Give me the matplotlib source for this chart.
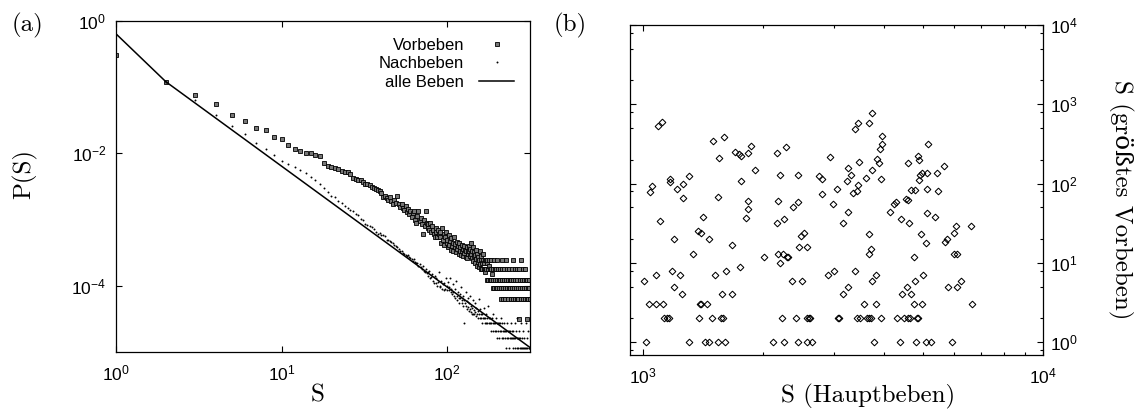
import matplotlib
matplotlib.use('Agg')
import matplotlib.pyplot as plt
from matplotlib.ticker import FixedLocator, LogLocator, NullLocator, FuncFormatter, NullFormatter

plt.rcParams['font.family'] = ['Liberation Sans', 'DejaVu Sans']
plt.rcParams['mathtext.fontset'] = 'custom'
plt.rcParams['mathtext.rm'] = 'Liberation Sans'
plt.rcParams['mathtext.default'] = 'regular'

SERIF = ['cmr10', 'DejaVu Serif']  # Computer-Modern-Optik fuer die Achsentitel

# (a) Verteilung P(S): Vorbeben (S, P)
vorbeben = [
    (1, 0.31), (2, 0.121), (3, 0.075), (4, 0.0565), (5, 0.0377), (6, 0.0313), (7, 0.024),
    (8, 0.0222), (9, 0.0176), (10, 0.0166), (11, 0.0136), (12, 0.0115), (13, 0.0108),
    (14, 0.0103), (15, 0.0100), (16, 0.0094), (17, 0.0091), (18, 0.0072), (19, 0.0065),
    (20, 0.0062), (21, 0.0060), (22, 0.0058), (23, 0.0055), (24, 0.0053), (25, 0.0052),
    (26, 0.0049), (27, 0.0042), (28, 0.0041), (29, 0.0040), (30, 0.0039), (31, 0.0037),
    (32, 0.0035), (33, 0.0034), (34, 0.0033), (35, 0.0031), (36, 0.0030), (37, 0.0029),
    (38, 0.0028), (39, 2.7e-3), (40, 2.5e-3), (41, 2.2e-3), (42, 2.3e-3), (43, 2.1e-3),
    (44, 2.0e-3), (45, 2.2e-3), (46, 1.9e-3), (47, 1.7e-3), (48, 2.0e-3), (49, 1.8e-3),
    (50, 2.3e-3), (51, 1.7e-3), (52, 1.55e-3), (53, 1.75e-3), (54, 1.5e-3), (55, 1.4e-3),
    (56, 1.6e-3), (57, 1.3e-3), (58, 1.45e-3), (59, 1.2e-3), (60, 1.35e-3), (61, 1.1e-3),
    (62, 1.25e-3), (63, 1.35e-3), (64, 1.0e-3), (65, 9.0e-4), (66, 1.15e-3), (67, 1.35e-3),
    (68, 9.5e-4), (69, 1.05e-3), (70, 8.5e-4), (71, 6.0e-4), (72, 1.0e-3), (73, 8.0e-4),
    (74, 1.35e-3), (75, 9.0e-4), (76, 7.5e-4), (77, 8.5e-4), (78, 7.0e-4), (79, 9.0e-4),
    (80, 6.5e-4), (81, 8.0e-4), (82, 7.0e-4), (83, 6.0e-4), (84, 5.4e-4), (85, 7.5e-4),
    (86, 6.5e-4), (87, 5.5e-4), (88, 7.0e-4), (89, 6.0e-4), (90, 5.5e-4), (91, 6.5e-4),
    (92, 4.5e-4), (93, 7.5e-4), (94, 5.0e-4), (95, 6.0e-4), (96, 4.2e-4), (97, 5.5e-4),
    (98, 6.5e-4), (99, 4.5e-4), (100, 5.0e-4), (101, 3.8e-4), (102, 5.8e-4), (103, 4.2e-4),
    (104, 4.8e-4), (105, 3.5e-4), (106, 5.2e-4), (107, 4.0e-4), (108, 4.5e-4), (109, 3.3e-4),
    (110, 5.5e-4), (111, 3.8e-4), (112, 4.3e-4), (113, 3.2e-4), (114, 4.6e-4), (115, 3.6e-4),
    (116, 4.0e-4), (117, 3.0e-4), (118, 4.4e-4), (119, 3.4e-4), (120, 3.8e-4), (121, 2.9e-4),
    (122, 4.1e-4), (123, 3.3e-4), (124, 3.6e-4), (125, 2.8e-4), (126, 4.0e-4), (127, 3.1e-4),
    (128, 3.5e-4), (129, 2.7e-4), (130, 3.3e-4), (131, 3.8e-4), (132, 2.6e-4), (133, 3.0e-4),
    (134, 3.4e-4), (135, 3.3e-4), (136, 4.0e-4), (137, 2.8e-4), (138, 3.6e-4), (139, 4.5e-4),
    (140, 3.0e-4), (141, 2.6e-4), (142, 3.4e-4), (143, 2.4e-4), (144, 3.8e-4), (145, 2.8e-4),
    (146, 3.2e-4), (147, 2.2e-4), (148, 2.9e-4), (149, 3.5e-4), (150, 2.5e-4), (151, 2.0e-4),
    (152, 3.0e-4), (153, 2.3e-4), (154, 2.7e-4), (155, 1.9e-4), (156, 2.46e-4), (157, 3.3e-4),
    (158, 2.1e-4), (159, 2.46e-4), (160, 1.81e-4), (161, 2.8e-4), (162, 2.2e-4), (163, 1.81e-4),
    (164, 2.46e-4), (165, 3.0e-4), (166, 1.81e-4), (167, 2.2e-4), (168, 2.46e-4), (169, 1.81e-4),
    (170, 1.6e-4), (171, 2.46e-4), (172, 1.81e-4), (173, 2.2e-4), (174, 1.24e-4), (175, 2.46e-4),
    (176, 1.81e-4), (177, 1.24e-4), (178, 2.0e-4), (179, 2.46e-4), (180, 1.81e-4), (181, 1.24e-4),
    (183, 2.46e-4), (184, 1.81e-4), (185, 1.24e-4), (186, 1.5e-4), (188, 9.3e-5), (189, 1.81e-4),
    (190, 1.24e-4), (191, 2.46e-4), (192, 9.3e-5), (193, 1.81e-4), (195, 1.24e-4), (196, 9.3e-5),
    (197, 1.81e-4), (199, 1.24e-4), (200, 2.46e-4), (201, 9.3e-5), (203, 1.81e-4), (204, 1.24e-4),
    (206, 9.3e-5), (207, 1.81e-4), (209, 1.24e-4), (210, 9.3e-5), (211, 6.3e-5), (213, 1.81e-4),
    (214, 2.46e-4), (215, 1.24e-4), (217, 9.3e-5), (218, 6.3e-5), (220, 1.24e-4), (221, 1.81e-4),
    (223, 9.3e-5), (224, 6.3e-5), (226, 1.24e-4), (227, 2.46e-4), (229, 9.3e-5), (230, 1.81e-4),
    (232, 1.24e-4), (233, 6.3e-5), (235, 9.3e-5), (237, 1.81e-4), (238, 1.24e-4), (240, 9.3e-5),
    (241, 6.3e-5), (243, 1.24e-4), (245, 1.81e-4), (246, 9.3e-5), (248, 6.3e-5), (250, 1.24e-4),
    (251, 2.46e-4), (253, 9.3e-5), (255, 1.81e-4), (256, 6.3e-5), (258, 1.24e-4), (260, 9.3e-5),
    (262, 1.81e-4), (263, 6.3e-5), (265, 1.24e-4), (267, 9.3e-5), (269, 6.3e-5), (271, 3.2e-5),
    (272, 1.81e-4), (274, 1.24e-4), (276, 9.3e-5), (278, 6.3e-5), (280, 2.46e-4), (281, 1.24e-4),
    (283, 9.3e-5), (285, 1.81e-4), (287, 6.3e-5), (289, 1.24e-4), (291, 9.3e-5), (293, 6.3e-5),
    (295, 1.81e-4), (297, 1.24e-4), (299, 9.3e-5), (301, 6.3e-5), (303, 1.24e-4), (305, 3.2e-5),
    (306, 9.3e-5), (308, 6.3e-5), (310, 1.24e-4), (312, 9.3e-5), (314, 6.3e-5),
]

# (a) Nachbeben (S, P)
nachbeben = [
    (1, 0.62), (2, 0.121), (3, 0.063), (4, 0.0386), (5, 0.0258), (6, 0.0193), (7, 0.0145),
    (8, 0.0115), (9, 0.0093), (10, 0.0077), (11, 0.0068), (12, 0.0062), (13, 0.0057),
    (14, 0.0050), (15, 0.0044), (16, 0.0039), (17, 0.0034), (18, 0.0030), (19, 0.0026),
    (20, 0.0023), (21, 0.0022), (22, 0.0019), (23, 0.0018), (24, 0.0016), (25, 0.0015),
    (26, 0.0014), (27, 0.00133), (28, 0.0012), (29, 0.00118), (30, 0.00102), (31, 0.00098),
    (32, 0.00086), (33, 0.00082), (34, 0.00080), (35, 0.00076), (36, 0.00072), (37, 0.00066),
    (38, 0.00060), (39, 0.00062), (40, 0.00058), (41, 0.00059), (42, 0.00056), (43, 0.00050),
    (44, 0.00049), (45, 0.00047), (46, 0.00046), (47, 0.00044), (48, 0.00041), (49, 0.00040),
    (50, 0.00038), (51, 0.00036), (52, 0.00034), (53, 0.00033), (54, 0.00031), (55, 0.00030),
    (56, 0.00029), (57, 0.00028), (58, 0.00029), (59, 0.00027), (60, 0.00026), (61, 0.00025),
    (62, 0.00024), (63, 0.00025), (64, 0.00023), (65, 0.00022), (66, 0.00022), (67, 0.00020),
    (68, 0.00021), (69, 0.00019), (70, 0.00018), (71, 0.00020), (72, 0.00017), (73, 0.00016),
    (74, 0.00018), (75, 0.000155), (76, 0.00016), (77, 0.00014), (78, 0.00017), (79, 0.00013),
    (80, 0.000135), (81, 0.00015), (82, 0.00012), (83, 0.00011), (84, 0.00014), (85, 0.00011),
    (86, 0.00013), (87, 0.00010), (88, 0.000115), (89, 0.00016), (90, 0.00010), (91, 9.5e-5),
    (92, 0.00012), (93, 9.0e-5), (94, 1.05e-4), (95, 8.5e-5), (96, 1.1e-4), (97, 9.0e-5),
    (98, 1.3e-4), (99, 8.5e-5), (100, 1.0e-4), (101, 1.15e-4), (102, 8.5e-5), (103, 9.5e-5),
    (104, 1.3e-4), (105, 8.0e-5), (106, 9.0e-5), (107, 7.5e-5), (108, 1.05e-4), (109, 8.0e-5),
    (110, 7.0e-5), (111, 9.0e-5), (112, 6.5e-5), (113, 1.2e-4), (114, 7.0e-5), (115, 6.0e-5),
    (116, 8.0e-5), (117, 6.5e-5), (118, 5.5e-5), (119, 7.5e-5), (120, 6.5e-5), (121, 9.5e-5),
    (122, 6.0e-5), (123, 5.5e-5), (124, 7.0e-5), (125, 5.0e-5), (126, 6.0e-5), (127, 2.7e-5),
    (128, 5.5e-5), (129, 8.0e-5), (130, 5.0e-5), (131, 5.8e-5), (132, 4.5e-5), (133, 6.5e-5),
    (134, 4.8e-5), (135, 4.2e-5), (136, 5.5e-5), (137, 4.5e-5), (138, 7.0e-5), (139, 4.0e-5),
    (140, 5.0e-5), (141, 3.8e-5), (142, 4.6e-5), (143, 6.0e-5), (144, 3.8e-5), (145, 4.3e-5),
    (146, 3.8e-5), (147, 5.5e-5), (148, 4.0e-5), (149, 3.5e-5), (150, 4.6e-5), (152, 3.8e-5),
    (153, 4.2e-5), (154, 3.3e-5), (155, 6.3e-5), (156, 3.8e-5), (157, 3.3e-5), (158, 4.5e-5),
    (160, 3.8e-5), (161, 3.3e-5), (162, 2.7e-5), (163, 3.8e-5), (165, 3.3e-5), (166, 4.6e-5),
    (167, 3.3e-5), (168, 2.7e-5), (170, 3.3e-5), (171, 3.8e-5), (172, 2.7e-5), (174, 3.3e-5),
    (175, 2.7e-5), (176, 5.0e-5), (178, 2.7e-5), (179, 3.3e-5), (180, 2.7e-5), (182, 3.3e-5),
    (183, 2.1e-5), (185, 2.7e-5), (186, 3.3e-5), (188, 2.7e-5), (189, 2.1e-5), (190, 3.8e-5),
    (192, 2.7e-5), (193, 2.1e-5), (195, 2.7e-5), (196, 3.3e-5), (198, 2.1e-5), (199, 2.7e-5),
    (200, 1.6e-5), (202, 2.7e-5), (203, 2.1e-5), (205, 2.7e-5), (206, 1.6e-5), (208, 2.1e-5),
    (209, 2.7e-5), (211, 3.3e-5), (212, 2.1e-5), (214, 1.6e-5), (215, 2.7e-5), (217, 2.1e-5),
    (218, 1.6e-5), (220, 2.1e-5), (221, 2.7e-5), (223, 1.6e-5), (224, 2.1e-5), (226, 1.13e-5),
    (227, 2.1e-5), (229, 1.6e-5), (230, 2.7e-5), (232, 2.1e-5), (233, 1.6e-5), (235, 2.1e-5),
    (236, 1.13e-5), (238, 1.6e-5), (240, 2.1e-5), (241, 2.7e-5), (243, 1.6e-5), (245, 2.1e-5),
    (246, 1.6e-5), (248, 1.13e-5), (250, 1.6e-5), (251, 2.1e-5), (253, 1.6e-5), (255, 2.7e-5),
    (256, 1.13e-5), (258, 1.6e-5), (260, 2.1e-5), (262, 1.6e-5), (263, 1.13e-5), (265, 3.3e-5),
    (266, 1.6e-5), (268, 1.13e-5), (270, 2.1e-5), (272, 1.6e-5), (274, 1.13e-5), (276, 1.6e-5),
    (278, 2.7e-5), (280, 1.13e-5), (282, 1.6e-5), (284, 1.13e-5), (286, 2.1e-5), (288, 1.13e-5),
    (290, 1.6e-5), (292, 1.13e-5), (295, 1.13e-5), (297, 2.7e-5), (299, 1.13e-5), (302, 1.6e-5),
    (305, 1.13e-5), (308, 2.1e-5), (310, 1.13e-5), (313, 1.13e-5),
]

# (a) alle Beben, Linie
alle_S = [1, 2, 316]
alle_P = [0.64, 0.121, 1.17e-5]

# (b) Hauptbeben S vs. groesstes Vorbeben S
haupt_vs_vor = [
    (1015, 1), (1306, 1), (1426, 1), (1462, 1), (1537, 1), (1606, 1), (2117, 1), (2255, 1),
    (2445, 1), (2575, 1), (2650, 1), (3787, 1), (4391, 1), (4815, 1), (5100, 1), (5248, 1),
    (5913, 1),
    (1128, 2), (1150, 2), (1159, 2), (1383, 2), (1488, 2), (1567, 2), (1582, 2), (2222, 2),
    (2413, 2), (2566, 2), (2596, 2), (2616, 2), (3076, 2), (3090, 2), (3420, 2), (3487, 2),
    (3637, 2), (3680, 2), (3707, 2), (3936, 2), (4323, 2), (4493, 2), (4605, 2), (4651, 2),
    (4850, 2), (4877, 2),
    (1037, 3), (1078, 3), (1124, 3), (1388, 3), (1399, 3), (1443, 3), (3574, 3), (3824, 3),
    (4766, 3), (4991, 3), (6632, 3),
    (1250, 4), (1576, 4), (1673, 4), (3155, 4), (4433, 4), (4677, 4),
    (1195, 5), (3262, 5), (4560, 5), (5796, 5), (6105, 5),
    (1007, 6), (2353, 6), (2502, 6), (3730, 6), (4786, 6), (6237, 6),
    (1076, 7), (1235, 7), (1516, 7), (2905, 7), (3824, 7), (5000, 7),
    (1182, 8), (1610, 8), (3003, 8), (3388, 8),
    (1751, 9), (2200, 10),
    (2007, 12), (2286, 12), (2308, 12), (4766, 12),
    (1334, 13), (2178, 13), (2235, 13), (3673, 13), (5999, 13), (6084, 13),
    (3715, 15), (2460, 16), (2566, 16), (1673, 17), (5100, 18), (5689, 18.6), (5741, 20),
    (1198, 20), (1459, 20), (2488, 22), (2526, 24), (1399, 24), (1370, 25.5), (3680, 23),
    (4955, 23), (5999, 24), (6067, 29), (6592, 29),
    (2166, 32), (3155, 32), (4631, 32), (1103, 34), (2252, 36), (4416, 36), (1809, 37),
    (1410, 38), (5370, 38), (5117, 42), (3262, 44), (4145, 44), (1827, 48), (2375, 50),
    (2980, 55), (4242, 55), (2438, 58), (4291, 59), (2172, 60), (1834, 60), (4605, 62),
    (4545, 64), (1261, 65), (1537, 67), (2797, 73), (3357, 77), (1041, 79), (5454, 80),
    (3420, 81), (4786, 83), (4667, 83), (1219, 86), (3048, 86), (5117, 86), (1055, 93),
    (3451, 96), (1261, 99),
    (1170, 106), (1758, 107), (3243, 108), (4898, 111), (1168, 115), (2803, 115), (3927, 115),
    (3604, 119), (1301, 125), (2748, 125), (3304, 127), (4927, 127), (2200, 130), (2438, 130),
    (4989, 135), (5117, 135), (5420, 135), (1908, 147), (3730, 149), (3262, 156), (5663, 169),
    (3896, 181), (4605, 181), (3474, 190), (4887, 200), (3840, 205), (1552, 211), (2934, 218),
    (1762, 224), (4859, 225), (1741, 236), (1834, 240), (2163, 240), (1698, 249), (3914, 272),
    (2279, 290), (1862, 302), (5166, 314), (3950, 316), (1500, 348), (1596, 392), (3950, 398),
    (3388, 495), (1089, 534), (3451, 577), (3680, 588), (1117, 604), (3743, 773),
]


def pow10(v, pos):
    return '10$^{%d}$' % round(__import__('math').log10(v))


W, H = 1138, 418
fig = plt.figure(figsize=(W / 100, H / 100), dpi=100)

# ---- (a) ----
ax1 = fig.add_axes([116 / W, 1 - 352 / H, 414 / W, 331 / H])
vs, vp = zip(*vorbeben)
ns, npp = zip(*nachbeben)
h_vor, = ax1.plot(vs, vp, ls='none', marker='s', ms=2.8, mfc='#777777', mec='black', mew=0.6)
h_nach, = ax1.plot(ns, npp, ls='none', marker='o', ms=1.4, mfc='black', mec='black', mew=0)
h_alle, = ax1.plot(alle_S, alle_P, color='black', lw=1.1)
ax1.set_xscale('log')
ax1.set_yscale('log')
ax1.set_xlim(1, 316)
ax1.set_ylim(1e-5, 1)
ax1.xaxis.set_major_locator(FixedLocator([1, 10, 100]))
ax1.yaxis.set_major_locator(FixedLocator([1, 1e-2, 1e-4]))
ax1.xaxis.set_minor_locator(NullLocator())
ax1.yaxis.set_minor_locator(NullLocator())
ax1.xaxis.set_major_formatter(FuncFormatter(pow10))
ax1.yaxis.set_major_formatter(FuncFormatter(pow10))
ax1.tick_params(axis='both', which='both', direction='in', top=True, right=True,
                length=4, width=0.8, labelsize=12.5)
ax1.tick_params(axis='x', pad=8)
ax1.tick_params(axis='y', pad=7)
for s in ax1.spines.values():
    s.set_linewidth(0.9)

ax1.legend([h_vor, h_nach, h_alle], ['Vorbeben', 'Nachbeben', 'alle Beben'],
           loc='upper right', bbox_to_anchor=(0.962, 0.95), markerfirst=False,
           frameon=False, fontsize=12, handlelength=2.1, handletextpad=0.9,
           labelspacing=0.22, borderaxespad=0, borderpad=0, numpoints=1)

# ---- (b) ----
ax2 = fig.add_axes([630 / W, 1 - 355 / H, 413 / W, 330 / H])
hs, gv = zip(*haupt_vs_vor)
ax2.plot(hs, gv, ls='none', marker='D', ms=3.4, mfc='none', mec='black', mew=0.75)
ax2.set_xscale('log')
ax2.set_yscale('log')
ax2.set_xlim(928, 1e4)
ax2.set_ylim(0.69, 1e4)
ax2.xaxis.set_major_locator(FixedLocator([1e3, 1e4]))
ax2.yaxis.set_major_locator(FixedLocator([1, 10, 100, 1e3, 1e4]))
ax2.xaxis.set_minor_locator(LogLocator(base=10, subs=range(2, 10), numticks=20))
ax2.yaxis.set_minor_locator(LogLocator(base=10, subs=(2, 5, 8), numticks=20))
ax2.xaxis.set_minor_formatter(NullFormatter())
ax2.yaxis.set_minor_formatter(NullFormatter())
ax2.xaxis.set_major_formatter(FuncFormatter(pow10))
ax2.yaxis.set_major_formatter(FuncFormatter(pow10))
ax2.tick_params(axis='both', which='both', direction='in', top=True, right=True, left=True,
                labelleft=False, labelright=True, width=0.8, labelsize=12.5)
ax2.tick_params(which='major', length=4.5)
ax2.tick_params(which='minor', length=2.2)
ax2.tick_params(axis='x', pad=8)
ax2.tick_params(axis='y', pad=5)
for s in ax2.spines.values():
    s.set_linewidth(0.9)

# Beschriftungen
fig.text(27 / W, 1 - 25 / H, '(a)', family=SERIF, fontsize=18, ha='center', va='center')
fig.text(570 / W, 1 - 25 / H, '(b)', family=SERIF, fontsize=18, ha='center', va='center')
fig.text(25 / W, 1 - 174 / H, 'P(S)', family=SERIF, fontsize=18, ha='center', va='center',
         rotation=90)
fig.text(318 / W, 1 - 395 / H, 'S', family=SERIF, fontsize=18, ha='center', va='center')
fig.text(868 / W, 1 - 396 / H, 'S (Hauptbeben)', family=SERIF, fontsize=18,
         ha='center', va='center')
fig.text(1121 / W, 1 - 200 / H, 'S (größtes Vorbeben)', family=SERIF, fontsize=18,
         ha='center', va='center', rotation=270)

fig.savefig('out.png', dpi=100)
